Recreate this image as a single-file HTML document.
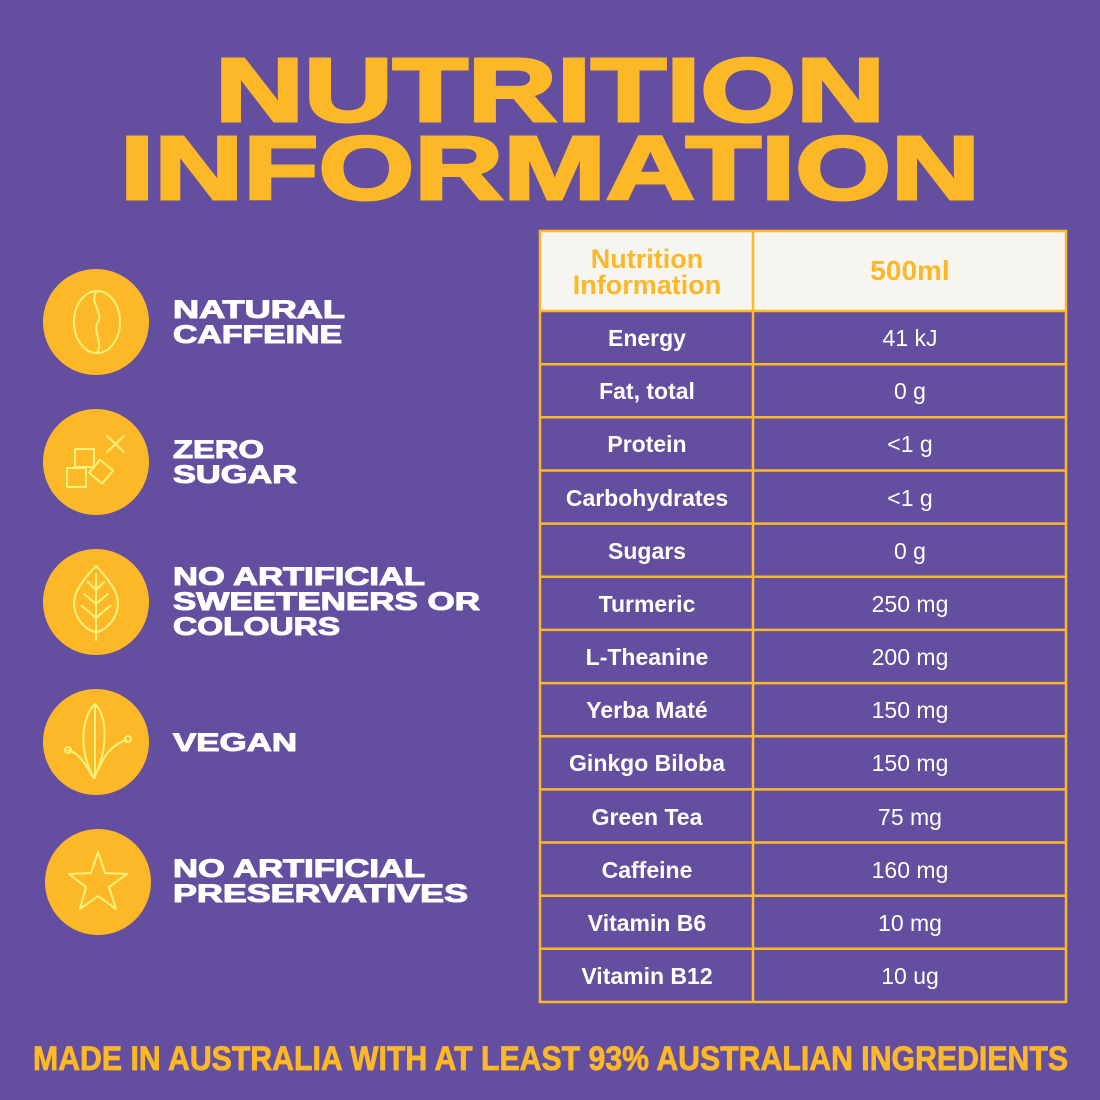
<!DOCTYPE html>
<html><head><meta charset="utf-8"><style>
html,body{margin:0;padding:0;background:#634ea0;}
svg{display:block;}
text{font-family:"Liberation Sans",sans-serif;}
</style></head><body>
<svg width="1100" height="1100" viewBox="0 0 1100 1100" xmlns="http://www.w3.org/2000/svg">
<rect width="1100" height="1100" fill="#634ea0"/>
<g fill="#fdb827" font-weight="900" font-size="90">
<text x="215" y="121" textLength="670" lengthAdjust="spacingAndGlyphs" stroke="#fdb827" stroke-width="3">NUTRITION</text>
<text x="120" y="199" textLength="860" lengthAdjust="spacingAndGlyphs" stroke="#fdb827" stroke-width="3">INFORMATION</text>
</g>
<g fill="#fdb827">
<circle cx="96" cy="322" r="53"/><circle cx="96" cy="462" r="53"/><circle cx="96" cy="602" r="53"/><circle cx="96" cy="742" r="53"/><circle cx="98" cy="882" r="53"/>
</g>
<g fill="none" stroke="#fff27a" stroke-width="2" stroke-linejoin="round" stroke-linecap="round">
<ellipse cx="97" cy="322" rx="23" ry="31"/>
<path d="M97 291 C88 302 104 312 98 322 C92 332 104 342 97 353"/>
<rect x="75" y="449" width="19" height="18"/><rect x="67" y="468" width="19" height="19"/>
<rect x="93" y="463" width="17" height="17" transform="rotate(40 101 471)"/>
<path d="M107 436 L124 452 M124 436 L107 452"/>
<path d="M96 566 C78 585 68 600 78 618 C84 628 92 632 96 632 C100 632 108 628 114 618 C124 600 114 585 96 566 Z"/>
<path d="M96 574 L96 640 M96 590 L88 582 M96 590 L104 582 M96 604 L84 594 M96 604 L108 594 M96 618 L82 606 M96 618 L110 606"/>
<path d="M95 704 C84 714 76 745 94 778 C110 745 106 714 95 704 Z M95 704 L95 778"/>
<path d="M92 776 C84 760 76 752 68 750 M98 770 C104 755 112 745 126 740"/>
<circle cx="68" cy="750" r="3"/><circle cx="128" cy="739" r="3"/>
<path d="M98 852 L105 873 L127 874 L109 887 L116 909 L98 896 L80 909 L86 887 L69 874 L91 873 Z"/>
</g>
<g fill="#fff" font-weight="900" font-size="25" stroke="#fff" stroke-width="1">
<text x="173" y="318" textLength="172" lengthAdjust="spacingAndGlyphs">NATURAL</text>
<text x="173" y="343" textLength="169" lengthAdjust="spacingAndGlyphs">CAFFEINE</text>
<text x="173" y="458" textLength="91" lengthAdjust="spacingAndGlyphs">ZERO</text>
<text x="173" y="483" textLength="124" lengthAdjust="spacingAndGlyphs">SUGAR</text>
<text x="173" y="585" textLength="252" lengthAdjust="spacingAndGlyphs">NO ARTIFICIAL</text>
<text x="173" y="610" textLength="307" lengthAdjust="spacingAndGlyphs">SWEETENERS OR</text>
<text x="173" y="635" textLength="167" lengthAdjust="spacingAndGlyphs">COLOURS</text>
<text x="173" y="751" textLength="124" lengthAdjust="spacingAndGlyphs">VEGAN</text>
<text x="173" y="877" textLength="252" lengthAdjust="spacingAndGlyphs">NO ARTIFICIAL</text>
<text x="173" y="902" textLength="295" lengthAdjust="spacingAndGlyphs">PRESERVATIVES</text>
</g>
<rect x="540" y="231" width="526" height="80" fill="#f7f5f0"/>
<g stroke="#fdb827" stroke-width="2.5" fill="none">
<rect x="540" y="231" width="526" height="771"/>
<line x1="753" y1="231" x2="753" y2="1002"/>
<line x1="540" y1="311" x2="1066" y2="311"/>
<line x1="540" y1="364.2" x2="1066" y2="364.2"/>
<line x1="540" y1="417.3" x2="1066" y2="417.3"/>
<line x1="540" y1="470.5" x2="1066" y2="470.5"/>
<line x1="540" y1="523.6" x2="1066" y2="523.6"/>
<line x1="540" y1="576.8" x2="1066" y2="576.8"/>
<line x1="540" y1="629.9" x2="1066" y2="629.9"/>
<line x1="540" y1="683.1" x2="1066" y2="683.1"/>
<line x1="540" y1="736.2" x2="1066" y2="736.2"/>
<line x1="540" y1="789.4" x2="1066" y2="789.4"/>
<line x1="540" y1="842.5" x2="1066" y2="842.5"/>
<line x1="540" y1="895.7" x2="1066" y2="895.7"/>
<line x1="540" y1="948.8" x2="1066" y2="948.8"/>
</g>
<g fill="#fdb827" font-weight="bold" text-anchor="middle">
<text x="647" y="268" font-size="27">Nutrition</text>
<text x="647" y="294" font-size="27">Information</text>
<text x="910" y="280" font-size="28">500ml</text>
</g>
<g fill="#fff" font-size="23" text-anchor="middle">
<g font-weight="bold">
<text x="647" y="346">Energy</text>
<text x="647" y="399">Fat, total</text>
<text x="647" y="452">Protein</text>
<text x="647" y="506">Carbohydrates</text>
<text x="647" y="559">Sugars</text>
<text x="647" y="612">Turmeric</text>
<text x="647" y="665">L-Theanine</text>
<text x="647" y="718">Yerba Maté</text>
<text x="647" y="771">Ginkgo Biloba</text>
<text x="647" y="825">Green Tea</text>
<text x="647" y="878">Caffeine</text>
<text x="647" y="931">Vitamin B6</text>
<text x="647" y="984">Vitamin B12</text>
</g>
<text x="910" y="346">41 kJ</text>
<text x="910" y="399">0 g</text>
<text x="910" y="452">&lt;1 g</text>
<text x="910" y="506">&lt;1 g</text>
<text x="910" y="559">0 g</text>
<text x="910" y="612">250 mg</text>
<text x="910" y="665">200 mg</text>
<text x="910" y="718">150 mg</text>
<text x="910" y="771">150 mg</text>
<text x="910" y="825">75 mg</text>
<text x="910" y="878">160 mg</text>
<text x="910" y="931">10 mg</text>
<text x="910" y="984">10 ug</text>
</g>
<text x="33" y="1070" font-size="34" font-weight="bold" fill="#fdb827" stroke="#fdb827" stroke-width="0.8" textLength="1035" lengthAdjust="spacingAndGlyphs">MADE IN AUSTRALIA WITH AT LEAST 93% AUSTRALIAN INGREDIENTS</text>
</svg>
</body></html>
